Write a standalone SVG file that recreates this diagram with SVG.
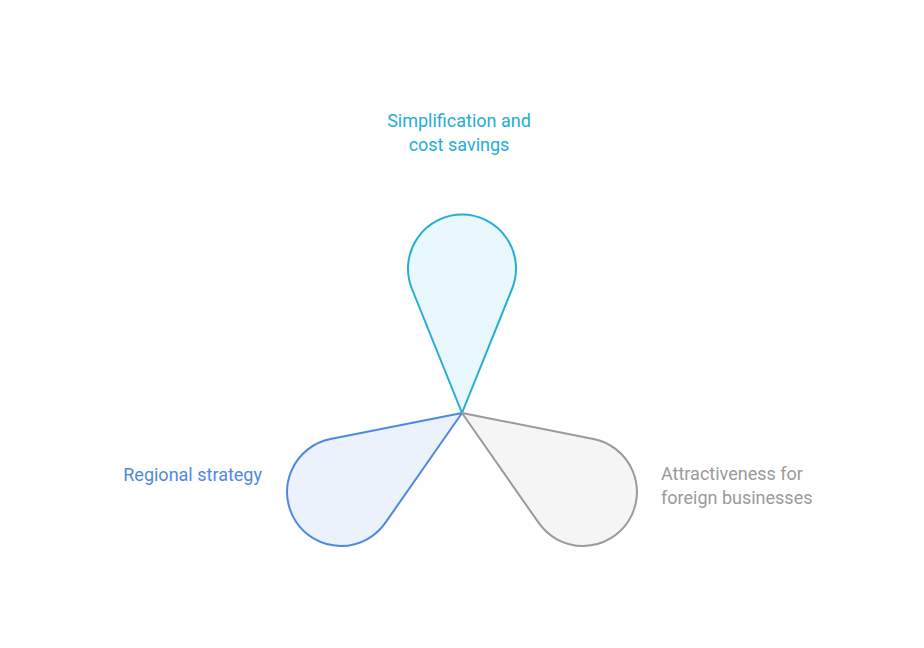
<svg xmlns="http://www.w3.org/2000/svg" width="924" height="648" viewBox="0 0 924 648">
<style>
text{font-family:Roboto,"Liberation Sans",sans-serif;font-size:18px}
.s{stroke-width:2;stroke-linejoin:round}
</style>
<rect width="924" height="648" fill="#fff"/>
<g id="connectors"></g>
<g id="node-top">
<path class="s" d="M462,413 L412,289 A54,54 0 1 1 512,289 Z" fill="#e8f8fc" stroke="#24add6"/>
<text x="459" y="127" text-anchor="middle" fill="#24add6">Simplification and</text>
<text x="459" y="151" text-anchor="middle" fill="#24add6">cost savings</text>
</g>
<g id="node-left">
<path class="s" d="M462,413 L330.5,439 A54,54 0 1 0 385.3,522.9 Z" fill="#ebf2fc" stroke="#4f88e0"/>
<text x="262" y="481" text-anchor="end" fill="#4f88e0">Regional strategy</text>
</g>
<g id="node-right">
<path class="s" d="M462,413 L593.5,439 A54,54 0 1 1 538.7,522.9 Z" fill="#f5f5f5" stroke="#9a9a9a"/>
<text x="661" y="480" fill="#9a9a9a">Attractiveness for</text>
<text x="661" y="504" fill="#9a9a9a">foreign businesses</text>
</g>
</svg>
